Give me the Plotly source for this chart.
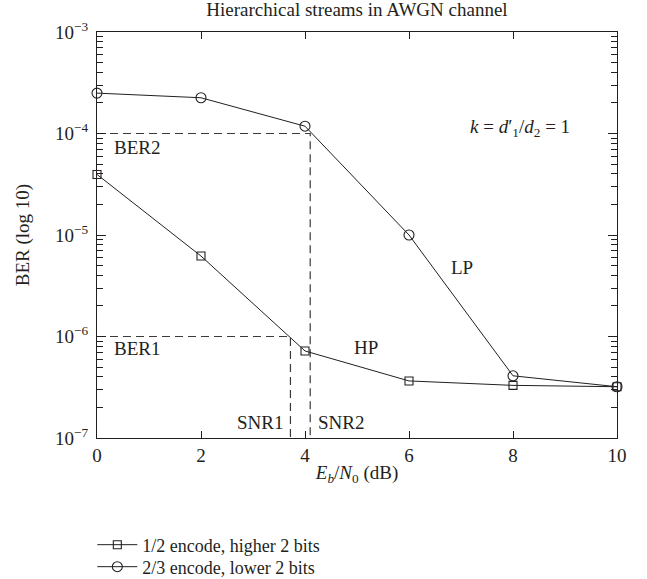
import plotly.graph_objects as go

# ---- data ----
snr_db = [0, 2, 4, 6, 8, 10]
ber_hp = [3.95e-5, 6.2e-6, 7.2e-7, 3.65e-7, 3.3e-7, 3.2e-7]   # 1/2 encode, higher 2 bits
ber_lp = [2.5e-4, 2.25e-4, 1.18e-4, 1.0e-5, 4.1e-7, 3.2e-7]   # 2/3 encode, lower 2 bits
series_names = ["1/2 encode, higher 2 bits", "2/3 encode, lower 2 bits"]

ber1, ber2 = 1e-6, 1e-4
snr1, snr2 = 3.72, 4.1
y_floor = 1e-7

ytick_vals = [1e-7, 1e-6, 1e-5, 1e-4, 1e-3]
ytick_text = ["10<sup>−7</sup>", "10<sup>−6</sup>", "10<sup>−5</sup>", "10<sup>−4</sup>", "10<sup>−3</sup>"]
xtick_vals = [0, 2, 4, 6, 8, 10]

FONT = "Liberation Serif"
FS = 19
INK = "#231f20"
DASH = "#3a3a3a"

fig = go.Figure()

# dashed reference lines
fig.add_trace(go.Scatter(x=[0, snr2, snr2], y=[ber2, ber2, y_floor], mode="lines",
                         line=dict(color=DASH, width=1.2, dash="8px,5px"),
                         showlegend=False, hoverinfo="skip"))
fig.add_trace(go.Scatter(x=[0, snr1, snr1], y=[ber1, ber1, y_floor], mode="lines",
                         line=dict(color=DASH, width=1.2, dash="8px,5px"),
                         showlegend=False, hoverinfo="skip"))

fig.add_trace(go.Scatter(x=snr_db, y=ber_hp, mode="lines+markers", name=series_names[0],
                         cliponaxis=False, legend="legend",
                         line=dict(color=INK, width=1),
                         marker=dict(symbol="square-open", size=8, color=INK, line=dict(width=1.1))))
fig.add_trace(go.Scatter(x=snr_db, y=ber_lp, mode="lines+markers", name=series_names[1],
                         cliponaxis=False, legend="legend2",
                         line=dict(color=INK, width=1),
                         marker=dict(symbol="circle-open", size=10, color=INK, line=dict(width=1.1))))

ann_font = dict(family=FONT, size=FS, color=INK)
anns = [
    dict(x=0.28, y=-4.14, text="BER2", xanchor="left"),
    dict(x=0.28, y=-6.12, text="BER1", xanchor="left"),
    dict(x=3.62, y=-6.85, text="SNR1", xanchor="right"),
    dict(x=4.22, y=-6.85, text="SNR2", xanchor="left"),
    dict(x=5.18, y=-6.11, text="HP", xanchor="center"),
    dict(x=7.02, y=-5.32, text="LP", xanchor="center"),
    dict(x=8.13, y=-3.95, text="<i>k</i> = <i>d</i>′<sub>1</sub>/<i>d</i><sub>2</sub> = 1", xanchor="center"),
]
for a in anns:
    fig.add_annotation(x=a["x"], y=a["y"], text=a["text"], xanchor=a["xanchor"], yanchor="middle",
                       showarrow=False, font=ann_font)

leg_common = dict(x=-0.009, xanchor="left", yanchor="middle", bgcolor="rgba(0,0,0,0)",
                  font=dict(family=FONT, size=18, color=INK), itemwidth=40)

fig.update_layout(
    width=647, height=579,
    margin=dict(l=97, r=30, t=32, b=141, autoexpand=False),
    paper_bgcolor="white", plot_bgcolor="white",
    font=dict(family=FONT, size=FS, color=INK),
    title=dict(text="Hierarchical streams in AWGN channel", xref="paper", x=0.5, xanchor="center",
               yref="container", y=0.996, yanchor="top", font=dict(family=FONT, size=FS, color=INK)),
    showlegend=True,
    legend=dict(y=-0.2635, **leg_common),
    legend2=dict(y=-0.3177, **leg_common),
)

fig.update_xaxes(range=[0, 10], tickvals=xtick_vals, ticks="inside", ticklen=7, tickcolor=INK,
                 showline=True, linecolor=INK, linewidth=1.2, mirror="allticks", showgrid=False,
                 zeroline=False, tickfont=dict(family=FONT, size=FS, color=INK), ticklabelstandoff=0,
                 title=dict(text="<i>E<sub>b</sub></i>/<i>N</i><sub>0</sub> (dB)", standoff=0,
                            font=dict(family=FONT, size=FS, color=INK)))
fig.update_yaxes(type="log", range=[-7, -3], tickvals=ytick_vals, ticktext=ytick_text,
                 ticks="inside", ticklen=9, tickcolor=INK,
                 minor=dict(ticks="inside", ticklen=6, tickcolor=INK, showgrid=False,
                            tickvals=[m * 10 ** e for e in range(-7, -3) for m in range(2, 10)]),
                 showline=True, linecolor=INK, linewidth=1.2, mirror="allticks", showgrid=False,
                 zeroline=False, tickfont=dict(family=FONT, size=FS, color=INK), ticklabelstandoff=4,
                 title=dict(text="BER (log 10)", standoff=20, font=dict(family=FONT, size=FS, color=INK)))

fig.write_html("out.html")
